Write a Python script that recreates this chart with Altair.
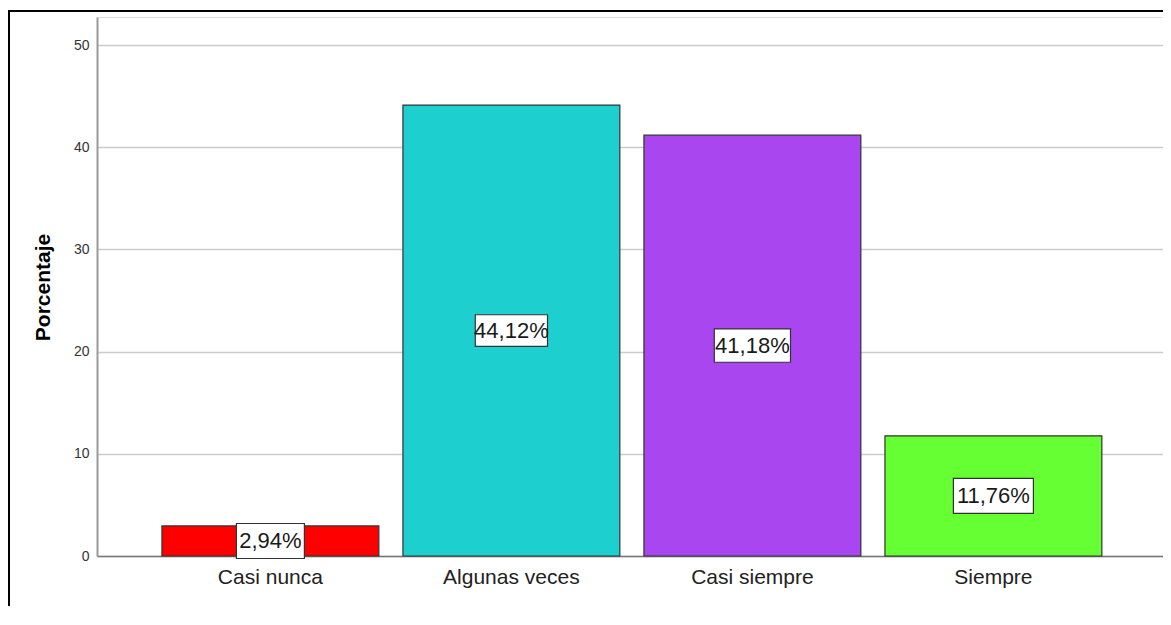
import altair as alt
import pandas as pd

categories = ["Casi nunca", "Algunas veces", "Casi siempre", "Siempre"]
percentages = [2.94, 44.12, 41.18, 11.76]
labels = ["2,94%", "44,12%", "41,18%", "11,76%"]
bar_colors = ["#ff0000", "#1ecfcf", "#a946ef", "#66ff33"]
y_ticks = [0, 10, 20, 30, 40, 50]

df = pd.DataFrame({"categoria": categories, "porcentaje": percentages, "etiqueta": labels})
df["mitad"] = df["porcentaje"] / 2

PLOT_W, PLOT_H = 1066, 539
BOX_H = 35
box_w = [12 * len(t) + 8 for t in labels]
box_paths = []
for w in box_w:
    h = BOX_H / w
    box_paths.append(f"M-1,{-h:.4f}L1,{-h:.4f}L1,{h:.4f}L-1,{h:.4f}Z")
box_sizes = [w * w for w in box_w]

FONT = "Liberation Sans"


def x_enc():
    return alt.X(
        "categoria:N",
        sort=categories,
        scale=alt.Scale(paddingInner=0.1, paddingOuter=0.2616, align=0.515),
        axis=alt.Axis(
            title=None, labelAngle=0, labelFontSize=21, labelColor="#222222",
            labelPadding=10, ticks=False, domainColor="#777777", domainWidth=1.5,
            labelFont=FONT, grid=False,
        ),
    )


def y_enc(field):
    return alt.Y(
        field,
        scale=alt.Scale(domain=[0, 52.74], nice=False),
        axis=alt.Axis(
            values=y_ticks, title="Porcentaje", titleFontSize=21, titleFontWeight="bold",
            titleColor="#000000", titleX=-48, titleY=270, titleAngle=270,
            titleBaseline="alphabetic", titleAlign="center", titleFont=FONT,
            labelFontSize=14, labelColor="#333333", labelPadding=8, labelFont=FONT,
            ticks=False, domainColor="#999999", domainWidth=2,
            gridColor="#cccccc", gridWidth=1.5,
        ),
    )


base = alt.Chart(df)

bars = base.mark_bar(stroke="#333333", strokeWidth=1.2).encode(
    x=x_enc(),
    y=y_enc("porcentaje:Q"),
    color=alt.Color("categoria:N", scale=alt.Scale(domain=categories, range=bar_colors), legend=None),
)

boxes = base.mark_point(
    filled=True, fill="white", stroke="#333333", strokeWidth=1.2, opacity=1, fillOpacity=1
).encode(
    x=x_enc(),
    y=y_enc("mitad:Q"),
    shape=alt.Shape("etiqueta:N", scale=alt.Scale(domain=labels, range=box_paths), legend=None),
    size=alt.Size("etiqueta:O", scale=alt.Scale(domain=labels, range=box_sizes), legend=None),
)

texts = base.mark_text(
    fontSize=22, font=FONT, color="#1a1a1a", baseline="middle", align="center"
).encode(
    x=x_enc(),
    y=y_enc("mitad:Q"),
    text="etiqueta:N",
)

frame_data = alt.Data(values=[{"k": 1}])
frame_top = alt.Chart(frame_data).mark_rule(color="black", strokeWidth=2).encode(
    x=alt.value(-89), x2=alt.value(PLOT_W + 10), y=alt.value(-6)
)
frame_left = alt.Chart(frame_data).mark_rule(color="black", strokeWidth=2).encode(
    x=alt.value(-88), y=alt.value(-6), y2=alt.value(PLOT_H + 120)
)

chart = (
    alt.layer(bars, boxes, texts, frame_top, frame_left)
    .properties(
        width=PLOT_W,
        height=PLOT_H,
        autosize=alt.AutoSizeParams(type="none"),
        padding={"left": 89, "top": 9, "right": 0, "bottom": 50},
        background="white",
    )
    .configure_view(stroke=None)
    .configure(font=FONT)
)

chart.save("out.html", embed_options={"renderer": "svg", "actions": False})
